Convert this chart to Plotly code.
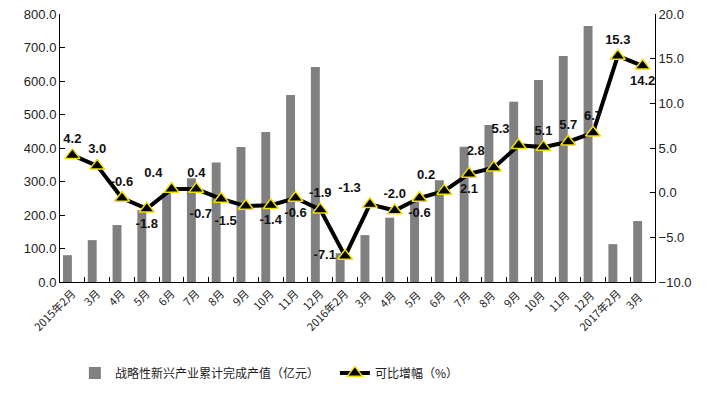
import plotly.graph_objects as go

categories = ["2015年2月", "3月", "4月", "5月", "6月", "7月", "8月", "9月", "10月", "11月", "12月",
              "2016年2月", "3月 ", "4月 ", "5月 ", "6月 ", "7月 ", "8月 ", "9月 ", "10月 ", "11月 ", "12月 ",
              "2017年2月", "3月  "]
output_value = [80, 125, 170, 215, 265, 310, 357, 403, 448, 558, 642,
                86, 140, 192, 240, 304, 404, 469, 538, 603, 675, 764,
                113, 182]
growth = [4.2, 3.0, -0.6, -1.8, 0.4, 0.4, -0.7, -1.5, -1.4, -0.6, -1.9,
          -7.1, -1.3, -2.0, -0.6, 0.2, 2.1, 2.8, 5.3, 5.1, 5.7, 6.7,
          15.3, 14.2]
label_pos = ["top center", "top center", "top center", "bottom center", "top left", "top center",
             "bottom left", "bottom left", "bottom center", "bottom center", "top center",
             "middle left", "top left", "top center", "bottom center", "top left", "bottom center",
             "top left", "top left", "top center", "top center", "top center",
             "top center", "bottom center"]

font_latin = "Liberation Sans, Arial, Noto Sans CJK SC, sans-serif"

fig = go.Figure()
fig.add_trace(go.Bar(
    x=categories, y=output_value, name="战略性新兴产业累计完成产值（亿元）",
    marker=dict(color="#808080", line=dict(width=0)),
    width=0.36, offset=-0.38,
))
fig.add_trace(go.Scatter(
    x=categories, y=growth, yaxis="y2", name="可比增幅（%）",
    mode="lines+markers+text",
    line=dict(color="black", width=4),
    marker=dict(symbol="triangle-up", size=13, color="black", line=dict(color="#f0e000", width=1.5)),
    text=[f"{v:.1f}" for v in growth], textposition=label_pos,
    textfont=dict(family=font_latin, size=13, color="#111111", weight="bold"),
    cliponaxis=False,
))

fig.update_layout(
    width=702, height=391,
    margin=dict(l=52, r=55, t=6, b=117, autoexpand=False),
    paper_bgcolor="white", plot_bgcolor="white",
    font=dict(family=font_latin, size=12, color="#222222"),
    showlegend=True,
    legend=dict(orientation="h", x=0.025, y=-0.285, xanchor="left", yanchor="top",
                entrywidth=215, entrywidthmode="pixels",
                font=dict(family="Noto Sans CJK SC, sans-serif", size=12, color="#222222")),
    xaxis=dict(
        type="category", tickangle=-45, showline=True, linecolor="black", linewidth=1,
        ticks="inside", tickson="boundaries", ticklen=5, tickcolor="black",
        tickfont=dict(family="Noto Sans CJK SC, sans-serif", size=11, color="#222222"),
        showgrid=False, range=[-0.5, 23.5],
    ),
    yaxis=dict(
        range=[0, 800], dtick=100, tickformat=".1f", showline=True, linecolor="black",
        ticks="inside", ticklen=5, tickcolor="black", showgrid=False, zeroline=False,
        tickfont=dict(size=13), ticklabeloverflow="allow",
    ),
    yaxis2=dict(
        range=[-10, 20], dtick=5, tickformat=".1f", overlaying="y", side="right",
        showline=True, linecolor="black", ticks="inside", ticklen=5, tickcolor="black",
        showgrid=False, zeroline=False, tickfont=dict(size=13), ticklabeloverflow="allow",
    ),
)

fig.write_html("out.html")
